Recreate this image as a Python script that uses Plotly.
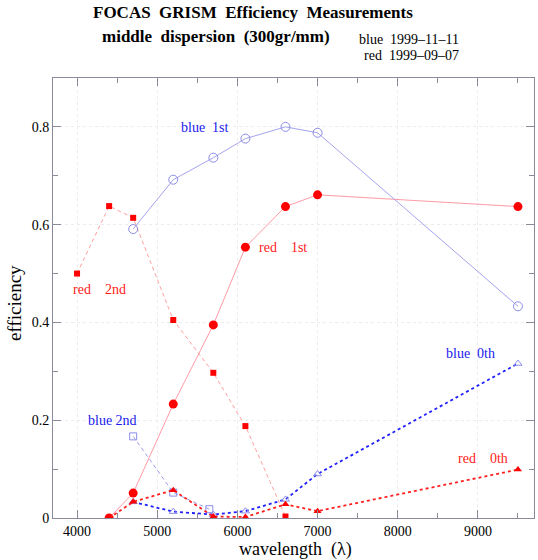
import plotly.graph_objects as go

# ---- data ----
red2_x = [4000, 4400, 4700, 5200, 5700, 6100, 6600]
red2_y = [0.500, 0.638, 0.614, 0.405, 0.297, 0.188, 0.003]

red1_x = [4400, 4700, 5200, 5700, 6100, 6600, 7000, 9500]
red1_y = [0.000, 0.051, 0.233, 0.395, 0.554, 0.637, 0.661, 0.637]

red0_x = [4400, 4700, 5200, 5700, 6100, 6600, 7000, 9500]
red0_y = [0.000, 0.033, 0.057, 0.003, 0.002, 0.028, 0.014, 0.099]

blue1_x = [4700, 5200, 5700, 6100, 6600, 7000, 9500]
blue1_y = [0.591, 0.692, 0.737, 0.776, 0.800, 0.788, 0.433]

blue2_x = [4700, 5200, 5650]
blue2_y = [0.167, 0.052, 0.018]

blue0_x = [4700, 5200, 5700, 6100, 6600, 7000, 9500]
blue0_y = [0.033, 0.013, 0.007, 0.014, 0.038, 0.090, 0.316]

x_ticks = [4000, 5000, 6000, 7000, 8000, 9000]
y_ticks = [0, 0.2, 0.4, 0.6, 0.8]
y_tick_labels = ["0", "0.2", "0.4", "0.6", "0.8"]

SERIF = "Liberation Serif, Times New Roman, serif"
AXC = "#8a8a9a"

fig = go.Figure()

fig.add_trace(go.Scatter(x=red2_x, y=red2_y, mode="lines+markers",
                         line=dict(color="#ffa0a0", width=1, dash="4px,3px"),
                         marker=dict(symbol="square", size=6, color="#ff0000")))
fig.add_trace(go.Scatter(x=red1_x, y=red1_y, mode="lines+markers",
                         line=dict(color="#ff9aa6", width=1),
                         marker=dict(symbol="circle", size=9, color="#ff0000")))
fig.add_trace(go.Scatter(x=blue1_x, y=blue1_y, mode="lines+markers",
                         line=dict(color="#a4a4ee", width=1),
                         marker=dict(symbol="circle-open", size=9, color="#8c8ce8",
                                     line=dict(width=1))))
fig.add_trace(go.Scatter(x=blue2_x, y=blue2_y, mode="lines+markers",
                         line=dict(color="#9c9cee", width=1, dash="4px,3px"),
                         marker=dict(symbol="square-open", size=7, color="#8c8ce8",
                                     line=dict(width=1))))
fig.add_trace(go.Scatter(x=blue0_x, y=blue0_y, mode="lines+markers",
                         line=dict(color="#2020ff", width=1.8, dash="dot"),
                         marker=dict(symbol="triangle-up-open", size=7, color="#8c8ce8",
                                     line=dict(width=1))))
fig.add_trace(go.Scatter(x=red0_x, y=red0_y, mode="lines+markers",
                         line=dict(color="#ff2020", width=1.8, dash="dot"),
                         marker=dict(symbol="triangle-up", size=7, color="#ff0000")))

# in-plot labels
labels = [
    ("blue\u00a0\u00a01st", 5596, 0.798, "#1a1aee"),
    ("red\u00a0\u00a0\u00a0\u00a01st", 6569, 0.554, "#ff1a1a"),
    ("red\u00a0\u00a0\u00a0\u00a02nd", 4286, 0.468, "#ff1a1a"),
    ("blue\u00a02nd", 4436, 0.200, "#1a1aee"),
    ("blue\u00a0\u00a00th", 8914, 0.3375, "#1a1aee"),
    ("red\u00a0\u00a0\u00a0\u00a00th", 9064, 0.121, "#ff1a1a"),
]
for txt, lx, ly, col in labels:
    fig.add_annotation(x=lx, y=ly, xref="x", yref="y", text=txt, showarrow=False,
                       font=dict(family=SERIF, size=14, color=col),
                       xanchor="center", yanchor="middle")

W, H = 538, 560
L, R, T, B = 53, 4, 78, 42
PW, PH = W - L - R, H - T - B


def px(x):
    return (x - L) / PW


def py(y):
    return (H - B - y) / PH


fig.add_annotation(x=px(253), y=py(12), xref="paper", yref="paper",
                   text="<b>FOCAS\u00a0\u00a0GRISM\u00a0\u00a0Efficiency\u00a0\u00a0Measurements</b>",
                   showarrow=False, xanchor="center", yanchor="middle",
                   font=dict(family=SERIF, size=17, color="black"))
fig.add_annotation(x=px(216), y=py(37), xref="paper", yref="paper",
                   text="<b>middle\u00a0\u00a0dispersion\u00a0\u00a0(300gr/mm)</b>",
                   showarrow=False, xanchor="center", yanchor="middle",
                   font=dict(family=SERIF, size=17, color="black"))
fig.add_annotation(x=px(461), y=py(40), xref="paper", yref="paper",
                   text="blue\u00a0\u00a01999\u201311\u201311",
                   showarrow=False, xanchor="right", yanchor="middle",
                   font=dict(family=SERIF, size=14, color="black"))
fig.add_annotation(x=px(461), y=py(55), xref="paper", yref="paper",
                   text="red\u00a0\u00a01999\u201309\u201307",
                   showarrow=False, xanchor="right", yanchor="middle",
                   font=dict(family=SERIF, size=14, color="black"))
fig.add_annotation(x=px(295), y=py(549), xref="paper", yref="paper",
                   text="wavelength\u00a0\u00a0(\u03bb)",
                   showarrow=False, xanchor="center", yanchor="middle",
                   font=dict(family=SERIF, size=18, color="black"))
fig.add_annotation(x=px(14), y=py(303), xref="paper", yref="paper",
                   text="efficiency", textangle=-90,
                   showarrow=False, xanchor="center", yanchor="middle",
                   font=dict(family=SERIF, size=19, color="black"))

fig.update_layout(
    width=W, height=H,
    margin=dict(l=L, r=R, t=T, b=B),
    paper_bgcolor="white", plot_bgcolor="white",
    showlegend=False,
    xaxis=dict(range=[3700, 9700], tickvals=x_ticks, ticks="inside", ticklen=8,
               tickcolor=AXC, showline=True, linecolor=AXC, linewidth=1,
               mirror="ticks", showgrid=True, gridcolor="#ebebf0", griddash="dot",
               gridwidth=1, zeroline=False,
               tickfont=dict(family=SERIF, size=14, color="black"),
               minor=dict(dtick=500, tick0=0, ticks="inside", ticklen=5,
                          tickcolor=AXC, showgrid=False)),
    yaxis=dict(range=[0, 0.9], tickvals=y_ticks, ticktext=y_tick_labels,
               ticks="inside", ticklen=8, tickcolor=AXC, showline=True,
               linecolor=AXC, linewidth=1, mirror="ticks", showgrid=True,
               gridcolor="#ebebf0", griddash="dot", gridwidth=1, zeroline=False,
               tickfont=dict(family=SERIF, size=14, color="black"),
               minor=dict(dtick=0.1, tick0=0, ticks="inside", ticklen=5,
                          tickcolor=AXC, showgrid=False)),
)

fig.write_html("out.html",
               config={"displayModeBar": False},
               post_script="document.body.style.margin='0px';"
                           "document.body.style.overflow='hidden';")
